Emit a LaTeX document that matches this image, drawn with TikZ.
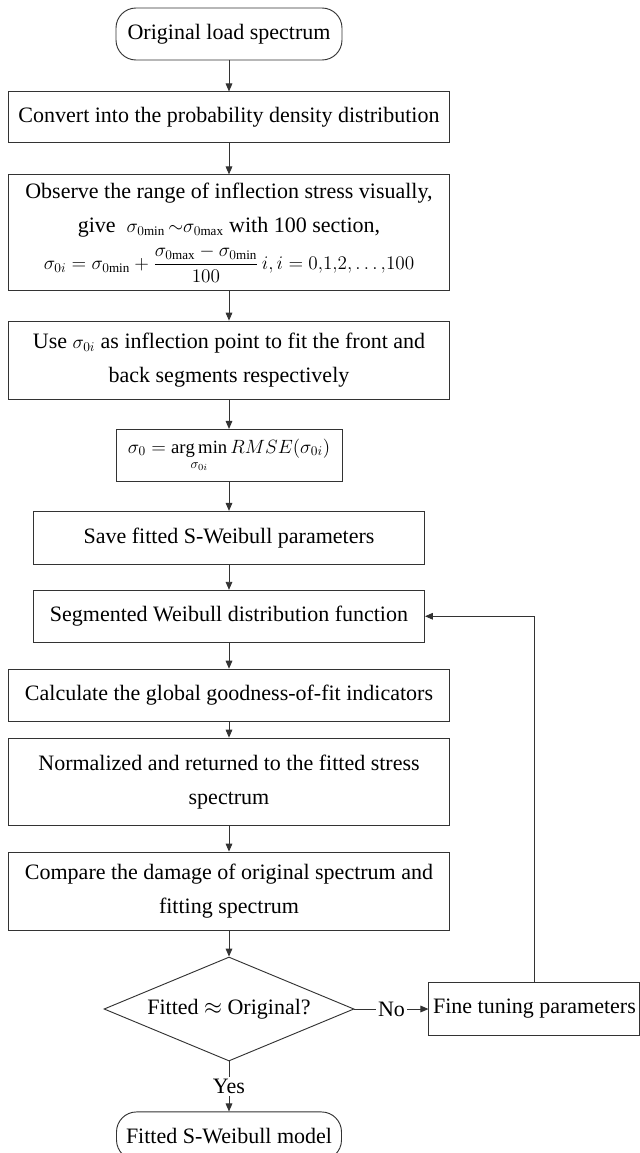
\documentclass[tikz,border=0pt]{standalone}
\usepackage{amsmath,amssymb}
\usepackage{fontspec}
\setmainfont{Liberation Serif}
\usetikzlibrary{positioning, shapes.geometric, graphs, arrows.meta}

\newcommand{\mathsize}{\fontsize{14}{17}\selectfont}

\begin{document}
\begin{tikzpicture}[node distance=22pt, line width=0.7pt,
        font=\fontsize{16.5}{25.5}\selectfont,
        >={Triangle[length=6pt,width=5pt]},
        process/.style={draw=black!80, rectangle, align=center, inner sep=2pt,
            minimum width=330.75pt, minimum height=38.25pt},
        terminal/.style={draw=black!80, rectangle, rounded corners=15pt,
            minimum width=169.5pt, minimum height=39pt},
        decision/.style={draw=black!80, diamond, aspect=2.4, inner sep=0pt,
            minimum width=187.5pt, minimum height=78pt},
        flowline/.style={draw=black!80, ->},
        label/.style={fill=white, inner sep=1.5pt}]

            \useasboundingbox (0,0) rectangle (479.25pt,-864.75pt);

            \node[terminal]                                 (start)   at (171.75pt,-25.5pt) {Original load spectrum};
            \node[process, below=23.25pt of start]          (step 1)  {Convert into the probability density distribution};
            \node[process, minimum height=87pt, below=23.25pt of step 1] (step 2)
                {Observe the range of inflection stress visually,\\
                 give \ {\mathsize$\sigma_{0\mathrm{min}}\,{\sim}\sigma_{0\mathrm{max}}$} with 100 section,\\[2pt]
                 {\mathsize$\sigma_{0i}=\sigma_{0\mathrm{min}}+\dfrac{\sigma_{0\mathrm{max}}-\sigma_{0\mathrm{min}}}{100}\,i, i=0{,}1{,}2{,}\ldots{,}100$}};
            \node[process, minimum height=58.5pt, below=of step 2] (step 3)
                {Use {\mathsize$\sigma_{0i}$} as inflection point to fit the front and\\ back segments respectively};
            \node[process, minimum width=169.5pt, minimum height=39pt, below=of step 3] (step 4)
                {\mathsize$\sigma_0=\mathop{\mathrm{arg\,min}}\limits_{\sigma_{0i}} RMSE(\sigma_{0i})$};
            \node[process, minimum width=293.25pt, minimum height=39.75pt, below=21.75pt of step 4] (step 5)
                {Save fitted S-Weibull parameters};
            \node[process, minimum width=293.25pt, minimum height=39pt, below=18.75pt of step 5] (step 6)
                {Segmented Weibull distribution function};
            \node[process, minimum height=39pt, below=19.5pt of step 6] (step 7)
                {Calculate the global goodness-of-fit indicators};
            \node[process, minimum height=65.25pt, below=12pt of step 7] (step 8)
                {Normalized and returned to the fitted stress\\ spectrum};
            \node[process, minimum height=58.5pt, below=19.5pt of step 8] (step 9)
                {Compare the damage of original spectrum and\\ fitting spectrum};
            \node[decision, below=19.5pt of step 9]         (check)   {Fitted $\approx$ Original?};
            \node[process, minimum width=158.25pt, minimum height=39.75pt, right=55.5pt of check] (tune)
                {Fine tuning parameters};
            \node[terminal, minimum width=168.75pt, minimum height=36pt, below=37.5pt of check] (end)
                {Fitted S-Weibull model};

            \graph[edges={flowline}]{
                (start) -> (step 1) -> (step 2) -> (step 3) -> (step 4) -> (step 5) -> (step 6)
                    -> (step 7) -> (step 8) -> (step 9) -> (check);
            };

            \draw[flowline] (check) -- node[label] {No} (tune);
            \draw[flowline] (check) -- node[label] {Yes} (end);
            \draw[flowline] (tune) |- (step 6);
        \end{tikzpicture}
\end{document}
